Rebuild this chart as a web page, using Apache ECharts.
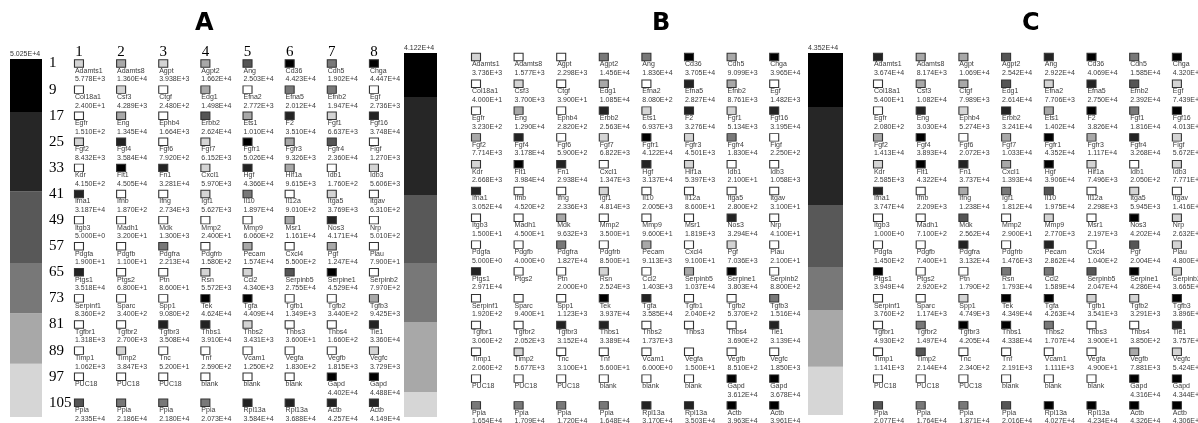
<!DOCTYPE html>
<html><head><meta charset="utf-8">
<script src="https://cdn.jsdelivr.net/npm/echarts@6/dist/echarts.min.js"></script>
<style>html,body{margin:0;padding:0;background:#fff}#c{width:1198px;height:423px}</style>
</head><body><div id="c"></div>
<script>
// ---- tick labels ----
const colLabels = ['1','2','3','4','5','6','7','8'];
const rowLabels = ['1','9','17','25','33','41','49','57','65','73','81','89','97','105'];
const panelTitles = ['A','B','C'];

// ---- spot names (same layout on every membrane) ----
const spotNames = [
 ['Adamts1','Adamts8','Agpt','Agpt2','Ang','Cd36','Cdh5','Chga'],
 ['Col18a1','Csf3','Ctgf','Edg1','Efna2','Efna5','Efnb2','Egf'],
 ['Egfr','Eng','Ephb4','Erbb2','Ets1','F2','Fgf1','Fgf16'],
 ['Fgf2','Fgf4','Fgf6','Fgf7','Fgfr1','Fgfr3','Fgfr4','Figf'],
 ['Kdr','Flt1','Fn1','Cxcl1','Hgf','Hif1a','Idb1','Idb3'],
 ['Ifna1','Ifnb','Ifng','Igf1','Il10','Il12a','Itga5','Itgav'],
 ['Itgb3','Madh1','Mdk','Mmp2','Mmp9','Msr1','Nos3','Nrp'],
 ['Pdgfa','Pdgfb','Pdgfra','Pdgfrb','Pecam','Cxcl4','Pgf','Plau'],
 ['Ptgs1','Ptgs2','Ptn','Rsn','Ccl2','Serpinb5','Serpine1','Serpinb2'],
 ['Serpinf1','Sparc','Spp1','Tek','Tgfa','Tgfb1','Tgfb2','Tgfb3'],
 ['Tgfbr1','Tgfbr2','Tgfbr3','Thbs1','Thbs2','Thbs3','Thbs4','Tie1'],
 ['Timp1','Timp2','Tnc','Tnf','Vcam1','Vegfa','Vegfb','Vegfc'],
 ['PUC18','PUC18','PUC18','blank','blank','blank','Gapd','Gapd'],
 ['Ppia','Ppia','Ppia','Ppia','Rpl13a','Rpl13a','Actb','Actb']
];

// ---- spot intensities ----
const valuesA = [
 [5778,13600,3938,16620,25030,44230,19020,44470],
 [24,4289,248,14980,2772,20120,19470,2736],
 [151,13450,1664,26240,10100,35100,6637,37480],
 [8432,35840,792,6152,50260,9326,23600,1270],
 [415,45050,32810,5970,43660,9615,176,5606],
 [31870,187,2734,5627,18970,901,3769,631],
 [5,32,1300,24,606,11610,41710,501],
 [19,11,22130,158,15740,550,12470,79],
 [35180,68,86,5572,4340,27550,45290,797],
 [836,340,908,46240,44090,1349,344,9425],
 [1318,2700,35080,39100,3431,36,166,33600],
 [1062,3847,52,259,125,183,1815,3729],
 [null,null,null,null,null,null,44020,44880],
 [23350,21860,21800,20730,35840,36880,42570,41490]
];
const valuesB = [
 [3736,1577,2298,14560,18360,37050,9099,39650],
 [40,3700,39,10850,808,28270,8761,1482],
 [323,12900,282,25630,6937,32760,5134,31950],
 [7714,31780,590,6822,41220,4501,18300,225],
 [2668,39840,29380,1347,31370,5397,21,1058],
 [30520,452,2336,4814,2005,86,280,31],
 [15,45,9632,35,96,1819,32940,41],
 [5,4,18270,85,9113,91,7036,21],
 [29710,null,2,2524,1403,10370,38030,880],
 [192,94,1123,39370,35850,204,537,15160],
 [306,2052,31520,33890,1737,null,369,31390],
 [206,5677,31,56,6,15,851,1850],
 [null,null,null,null,null,null,36120,36780],
 [16540,17090,17200,16480,31700,35030,39630,39610]
];
const valuesC = [
 [36740,8174,10690,25420,29220,40690,15850,43200],
 [54,10820,7989,26140,7706,27500,23920,7439],
 [208,30300,5274,32410,14020,38260,18160,40130],
 [14130,38930,2072,10330,43520,11170,32680,5672],
 [2585,43220,37370,13930,39060,7496,205,7771],
 [37470,2209,12380,18120,19750,2298,5945,141.6],
 [1,710,25620,29,2770,2197,42020,2632],
 [145,74,31320,1476,28620,104,20040,4800],
 [39490,292,179,17930,15890,20470,42860,3665],
 [376,1174,4749,43490,42630,3541,3291,38960],
 [493,14970,42050,43380,17070,39,385,37570],
 [1141,21440,234,2191,1111,49,7881,5424],
 [null,null,null,null,null,null,43160,43440],
 [20770,17640,18710,20160,40270,42340,43260,43060]
];

// ---- colour-bar scales (max and band upper bounds, bottom to top) ----
const legendMax = [50250, 41220, 43520];
const legendBoundsA = [7490, 14570, 21610, 31660, 42810, 50250];
const legendBoundsB = [2840, 10760, 17440, 25140, 36230, 41220];
const legendBoundsC = [5790, 12620, 17800, 25240, 37040, 43520];

// ---- styling ----
const bandColors = ['#d6d6d6','#a8a8a8','#787878','#585858','#262626','#000000'];
const spotColors = ['#ffffff','#d4d4d4','#a8a8a8','#787878','#555555','#232323','#000000'];
const cutFractions = [0.058,0.18,0.34,0.45,0.61,0.875];

const panels = [
  {vals: valuesA, bounds: legendBoundsA, max: legendMax[0],
   grid:{left:57.9, width:337.1, top:50.45, height:365.4},
   lgrid:{left:10, width:32, top:59, height:358}, title:{left:195, top:12}},
  {vals: valuesB, bounds: legendBoundsB, max: legendMax[1],
   grid:{left:454.7, width:340.8, top:43.6, height:375.2},
   lgrid:{left:404, width:33, top:53, height:364}, title:{left:652, top:12}},
  {vals: valuesC, bounds: legendBoundsC, max: legendMax[2],
   grid:{left:856.65, width:341.6, top:43.6, height:375.2},
   lgrid:{left:808, width:35, top:53, height:362}, title:{left:1022, top:12}}
];

function fmt(v){ return v.toExponential(3).replace('e','E'); }
function spotColor(v, max){
  if (v == null) return spotColors[0];
  let k = 0;
  for (let i = 0; i < cutFractions.length; i++) if (v >= cutFractions[i]*max) k = i+1;
  return spotColors[k];
}

const grids = [], xAxes = [], yAxes = [], series = [], titles = [];
const smallFont = 'Liberation Sans, Arial, sans-serif';
const serifFont = 'Liberation Serif, Times New Roman, serif';

panels.forEach((p, pi) => {
  grids.push(Object.assign({outerBoundsMode:'none', containLabel:false}, p.grid));
  xAxes.push({type:'category', gridIndex:pi, data:colLabels, position:'top',
    axisLine:{show:false}, axisTick:{show:false}, splitLine:{show:false},
    axisLabel:{show: pi===0, interval:0, fontFamily:serifFont, fontSize:15, color:'#000',
      margin:-2, verticalAlign:'middle'}});
  yAxes.push({type:'category', gridIndex:pi, data:rowLabels, inverse:true,
    axisLine:{show:false}, axisTick:{show:false}, splitLine:{show:false},
    axisLabel:{show: pi===0, interval:0, fontFamily:serifFont, fontSize:15, color:'#000',
      align:'left', margin:9, padding:[6,0,0,0]}});
  const data = [];
  for (let r = 0; r < rowLabels.length; r++) {
    for (let c = 0; c < colLabels.length; c++) {
      const v = p.vals[r][c];
      data.push({value:[c, r], name: spotNames[r][c], v: v,
        itemStyle:{color: spotColor(v, p.max)}});
    }
  }
  series.push({type:'scatter', xAxisIndex:pi, yAxisIndex:pi, symbol:'rect',
    symbolSize:[9,7.5], data, silent:true, animation:false,
    itemStyle:{borderColor:'#333', borderWidth:1, opacity:1},
    label:{show:true, position:[1,7.5], align:'left', verticalAlign:'top',
      fontFamily:smallFont, fontSize:7, lineHeight:8.5, color:'#3a3a3a',
      formatter: q => q.data.v == null ? q.data.name : q.data.name + '\n' + fmt(q.data.v)}});
  titles.push({text: panelTitles[pi], left:p.title.left, top:p.title.top, padding:0,
    textStyle:{fontFamily:'DejaVu Sans, sans-serif', fontWeight:'bold', fontSize:24, color:'#000'}});
});

panels.forEach((p, pi) => {
  const gi = 3 + pi;
  grids.push(Object.assign({outerBoundsMode:'none', containLabel:false}, p.lgrid));
  xAxes.push({type:'category', gridIndex:gi, data:[''], show:false});
  yAxes.push({type:'value', gridIndex:gi, min:0, max:p.max,
    axisLine:{show:false}, axisTick:{show:false}, axisLabel:{show:false}, splitLine:{show:false},
    name: fmt(p.max), nameLocation:'end', nameGap:5,
    nameTextStyle:{fontFamily:smallFont, fontSize:7, color:'#333', align:'left', verticalAlign:'middle'}});
  p.bounds.forEach((b, bi) => {
    const prev = bi === 0 ? 0 : p.bounds[bi-1];
    series.push({type:'bar', xAxisIndex:gi, yAxisIndex:gi, stack:'bar'+pi,
      barWidth:'100%', data:[b - prev], silent:true, animation:false,
      itemStyle:{color: bandColors[bi]}});
  });
});

const chart = echarts.init(document.getElementById('c'), null, {renderer:'canvas'});
chart.setOption({
  backgroundColor:'#fff', animation:false,
  title: titles, grid: grids, xAxis: xAxes, yAxis: yAxes, series,
  tooltip:{show:false}, legend:{show:false}
});
</script></body></html>
